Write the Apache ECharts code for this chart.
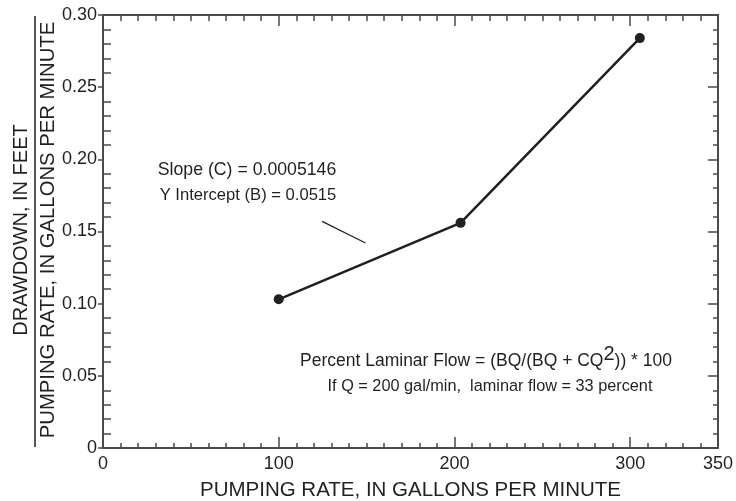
<!DOCTYPE html>
<html>
<head>
<meta charset="utf-8">
<script src="https://cdn.jsdelivr.net/npm/echarts@6/dist/echarts.min.js"></script>
<style>
  html, body { margin: 0; padding: 0; background: #ffffff; }
  #chart { width: 736px; height: 501px; }
</style>
</head>
<body>
<div id="chart"></div>
<script>
// Pumping rate (gal/min) and specific drawdown (ft per gal/min)
const pumpingRate = [100, 203.5, 305.5];
const specificDrawdown = [0.103, 0.156, 0.284];

// Tick labels shown on each axis
const xTickLabels = ['0', '100', '200', '300', '350'];
const yTickLabels = ['0', '0.05', '0.10', '0.15', '0.20', '0.25', '0.30'];

// Leader line from the regression note toward the fitted line
const leaderFrom = [124.7, 0.157];
const leaderTo = [149.4, 0.142];

const INK = '#231f20';
const AXIS = '#4a4a4a';
const FONT = 'Liberation Sans, Arial, Helvetica, sans-serif';

const chart = echarts.init(document.getElementById('chart'), null, { renderer: 'canvas' });

const grid = { left: 103, right: 18, top: 15, bottom: 53, containLabel: false, outerBoundsMode: 'none' };

function xLabel(v) {
  const s = String(Math.round(v));
  return xTickLabels.indexOf(s) >= 0 ? s : '';
}
function yLabel(v) {
  const s = v === 0 ? '0' : v.toFixed(2);
  return yTickLabels.indexOf(s) >= 0 ? s : '';
}

const hidden = { show: false };

const option = {
  animation: false,
  backgroundColor: '#ffffff',
  grid: grid,
  xAxis: [
    { // bottom, labels and long ticks
      type: 'value', position: 'bottom', min: 0, max: 350, interval: 100,
      axisLine: { show: true, onZero: false, lineStyle: { color: AXIS, width: 2 } },
      axisTick: { show: true, inside: true, length: 11, lineStyle: { color: AXIS, width: 1.5 } },
      axisLabel: { show: true, margin: 7, formatter: xLabel, color: INK, fontSize: 18, fontFamily: FONT },
      splitLine: hidden,
      name: 'PUMPING RATE, IN GALLONS PER MINUTE', nameLocation: 'middle', nameGap: 32,
      nameTextStyle: { color: INK, fontSize: 20.5, fontFamily: FONT }
    },
    { // bottom, short ticks every 10
      type: 'value', position: 'bottom', min: 0, max: 350, interval: 10,
      axisLine: { show: false, onZero: false },
      axisTick: { show: true, inside: true, length: 5, lineStyle: { color: AXIS, width: 1.5 } },
      axisLabel: hidden, splitLine: hidden
    },
    { // top, long ticks
      type: 'value', position: 'top', min: 0, max: 350, interval: 100,
      axisLine: { show: true, onZero: false, lineStyle: { color: AXIS, width: 2 } },
      axisTick: { show: true, inside: true, length: 11, lineStyle: { color: AXIS, width: 1.5 } },
      axisLabel: hidden, splitLine: hidden
    },
    { // top, short ticks every 10
      type: 'value', position: 'top', min: 0, max: 350, interval: 10,
      axisLine: { show: false, onZero: false },
      axisTick: { show: true, inside: true, length: 6, lineStyle: { color: AXIS, width: 1.5 } },
      axisLabel: hidden, splitLine: hidden
    }
  ],
  yAxis: [
    { // left, labels and outward major ticks
      type: 'value', position: 'left', min: 0, max: 0.30, interval: 0.05,
      axisLine: { show: true, onZero: false, lineStyle: { color: AXIS, width: 2 } },
      axisTick: { show: true, inside: false, length: 5, lineStyle: { color: AXIS, width: 1.5 } },
      axisLabel: { show: true, margin: 6, formatter: yLabel, color: INK, fontSize: 18, fontFamily: FONT },
      splitLine: hidden
    },
    { // left, inward minor ticks
      type: 'value', position: 'left', min: 0, max: 0.30, interval: 0.05,
      axisLine: { show: false, onZero: false },
      axisTick: { show: false, inside: true },
      minorTick: { show: true, splitNumber: 5, length: 8, lineStyle: { color: AXIS, width: 1.5 } },
      axisLabel: hidden, splitLine: hidden, minorSplitLine: hidden
    },
    { // right, inward ticks
      type: 'value', position: 'right', min: 0, max: 0.30, interval: 0.05,
      axisLine: { show: true, onZero: false, lineStyle: { color: AXIS, width: 2 } },
      axisTick: { show: true, inside: true, length: 10, lineStyle: { color: AXIS, width: 1.5 } },
      minorTick: { show: true, splitNumber: 5, length: 5, lineStyle: { color: AXIS, width: 1.5 } },
      axisLabel: hidden, splitLine: hidden, minorSplitLine: hidden
    }
  ],
  series: [
    {
      type: 'line',
      xAxisIndex: 0, yAxisIndex: 0,
      data: pumpingRate.map((q, i) => [q, specificDrawdown[i]]),
      symbol: 'circle', symbolSize: 10,
      lineStyle: { color: INK, width: 2.5 },
      itemStyle: { color: INK },
      markLine: {
        silent: true, symbol: 'none', label: { show: false },
        lineStyle: { color: INK, width: 1.2, type: 'solid' },
        data: [[{ coord: leaderFrom }, { coord: leaderTo }]]
      },
      z: 5
    }
  ],
  graphic: [
    // y-axis title drawn as a fraction
    {
      type: 'text', x: 21, y: 230, rotation: Math.PI / 2,
      style: { text: 'DRAWDOWN, IN FEET', fill: INK, font: '20px ' + FONT, textAlign: 'center', textVerticalAlign: 'middle' }
    },
    {
      type: 'line', shape: { x1: 35, y1: 16, x2: 35, y2: 447 },
      style: { stroke: INK, lineWidth: 1.5 }
    },
    {
      type: 'text', x: 48, y: 230, rotation: Math.PI / 2,
      style: { text: 'PUMPING RATE, IN GALLONS PER MINUTE', fill: INK, font: '20.3px ' + FONT, textAlign: 'center', textVerticalAlign: 'middle' }
    },
    // regression note
    {
      type: 'text', x: 247, y: 170,
      style: { text: 'Slope (C) = 0.0005146', fill: INK, font: '17.7px ' + FONT, textAlign: 'center', textVerticalAlign: 'middle' }
    },
    {
      type: 'text', x: 248, y: 195,
      style: { text: 'Y Intercept (B) = 0.0515', fill: INK, font: '16.6px ' + FONT, textAlign: 'center', textVerticalAlign: 'middle' }
    },
    // laminar flow note
    {
      type: 'text', x: 486, y: 357,
      style: {
        text: '{t|Percent Laminar Flow = (BQ/(BQ + CQ}{sup|2}{t|)) * 100}',
        textAlign: 'center', textVerticalAlign: 'middle',
        rich: {
          t: { fill: INK, font: '17.5px ' + FONT, verticalAlign: 'bottom' },
          sup: { fill: INK, font: '20px ' + FONT, verticalAlign: 'bottom', padding: [0, 0, 6, 0] }
        }
      }
    },
    {
      type: 'text', x: 490, y: 387,
      style: { text: 'If Q = 200 gal/min,  laminar flow = 33 percent', fill: INK, font: '16.3px ' + FONT, textAlign: 'center', textVerticalAlign: 'middle' }
    }
  ]
};

chart.setOption(option);
</script>
</body>
</html>
